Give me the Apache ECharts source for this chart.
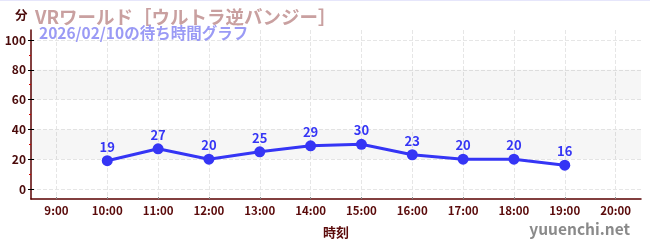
<!DOCTYPE html>
<html><head><meta charset="utf-8">
<script src="https://cdn.jsdelivr.net/npm/echarts@6/dist/echarts.min.js"></script>
<style>html,body{margin:0;padding:0;background:#fff;}#w{position:relative;width:650px;height:250px;}#c{width:650px;height:250px;}#topline{position:absolute;left:0;top:0;width:650px;height:1px;background:#e6e6fb;z-index:5;}</style>
</head><body><div id="w"><div id="c"></div><div id="topline"></div></div>
<script>
const categories = ['9:00','10:00','11:00','12:00','13:00','14:00','15:00','16:00','17:00','18:00','19:00','20:00'];
const waitValues = [null,19,27,20,25,29,30,23,20,20,16,null];
const yTicks = [0,20,40,60,80,100];
const yMinorTicks = [10,30,50,70,90];
const bands = [[20,40],[60,80]];
const titleText = 'VRワールド［ウルトラ逆バンジー］';
const subText = '2026/02/10の待ち時間グラフ';
const unitText = '分';
const xName = '時刻';
const yMin = -20/3, yMax = 320/3;
const catIdx = categories.map((c, i) => i);

const font = '"Noto Sans CJK JP","Noto Sans",sans-serif';
const chart = echarts.init(document.getElementById('c'), null, {renderer:'canvas'});
const yBase = {type:'value', min:yMin, max:yMax, gridIndex:0, position:'left', offset:0};
chart.setOption({
  animation:false,
  textStyle:{fontFamily:font},
  title:[
    {text:titleText, left:30, top:3, padding:5, textStyle:{fontFamily:font, fontSize:18.5, fontWeight:'bold', color:'#c9a0a0'}},
    {text:subText, left:34, top:20, padding:5, textStyle:{fontFamily:font, fontSize:15.5, fontWeight:'bold', color:'#9a9af5'}},
    {text:unitText, left:10, top:4, textStyle:{fontFamily:font, fontSize:12.5, fontWeight:'bold', color:'#4a0a0a'}},
    {text:'yuuenchi.net', right:15, bottom:8, textStyle:{fontFamily:font, fontSize:15.5, fontWeight:'bold', color:'#8a8a8a'}}
  ],
  grid:{left:31, right:9, top:30, bottom:51},
  xAxis:[
    {type:'category', data:categories, boundaryGap:true,
     name:xName, nameLocation:'middle', nameGap:27,
     nameTextStyle:{fontFamily:font, fontSize:13, fontWeight:'bold', color:'#5a0a0a'},
     axisLine:{onZero:false, lineStyle:{color:'#5a0000', width:1.5}},
     axisTick:{alignWithLabel:true, length:3, lineStyle:{color:'#888'}},
     axisLabel:{fontFamily:font, fontSize:11.5, fontWeight:'bold', color:'#5a0a0a', margin:6},
     splitLine:{show:false}},
    {type:'value', min:-0.5, max:categories.length - 0.5, position:'bottom',
     axisLine:{show:false, onZero:false}, axisLabel:{show:false},
     axisTick:{show:true, inside:true, customValues:catIdx, length:2, lineStyle:{color:'#888'}},
     splitLine:{show:true, lineStyle:{color:'#e6e6e6', type:'dashed'}}}
  ],
  yAxis:[
    Object.assign({}, yBase, {
      axisLine:{show:true, onZero:false, lineStyle:{color:'#5a0000', width:1.5}},
      axisTick:{show:true, customValues:yTicks, length:3, lineStyle:{color:'#000'}},
      axisLabel:{customValues:yTicks, fontFamily:font, fontSize:12, fontWeight:'bold', color:'#4a0a0a', margin:5},
      splitLine:{show:true, lineStyle:{color:'#e6e6e6', type:'dashed'}}
    }),
    Object.assign({}, yBase, {
      axisLine:{show:false, onZero:false}, axisLabel:{show:false},
      axisTick:{show:true, inside:true, customValues:yTicks, length:3, lineStyle:{color:'#000'}},
      splitLine:{show:false}
    }),
    Object.assign({}, yBase, {
      axisLine:{show:false, onZero:false}, axisLabel:{show:false},
      axisTick:{show:true, customValues:yMinorTicks, length:2, lineStyle:{color:'#d00000'}},
      splitLine:{show:false}
    })
  ],
  series:[{
    type:'line', data:waitValues, xAxisIndex:0, yAxisIndex:0,
    symbol:'circle', symbolSize:11, connectNulls:false,
    lineStyle:{color:'#3535f5', width:3},
    itemStyle:{color:'#3535f5'},
    label:{show:true, position:'top', distance:2, fontFamily:font, fontSize:13, fontWeight:'bold', color:'#3535f5'},
    markArea:{silent:true, itemStyle:{color:'rgba(0,0,0,0.035)'},
      data: bands.map(b => [{yAxis:b[0]},{yAxis:b[1]}])}
  }]
});
</script></body></html>
